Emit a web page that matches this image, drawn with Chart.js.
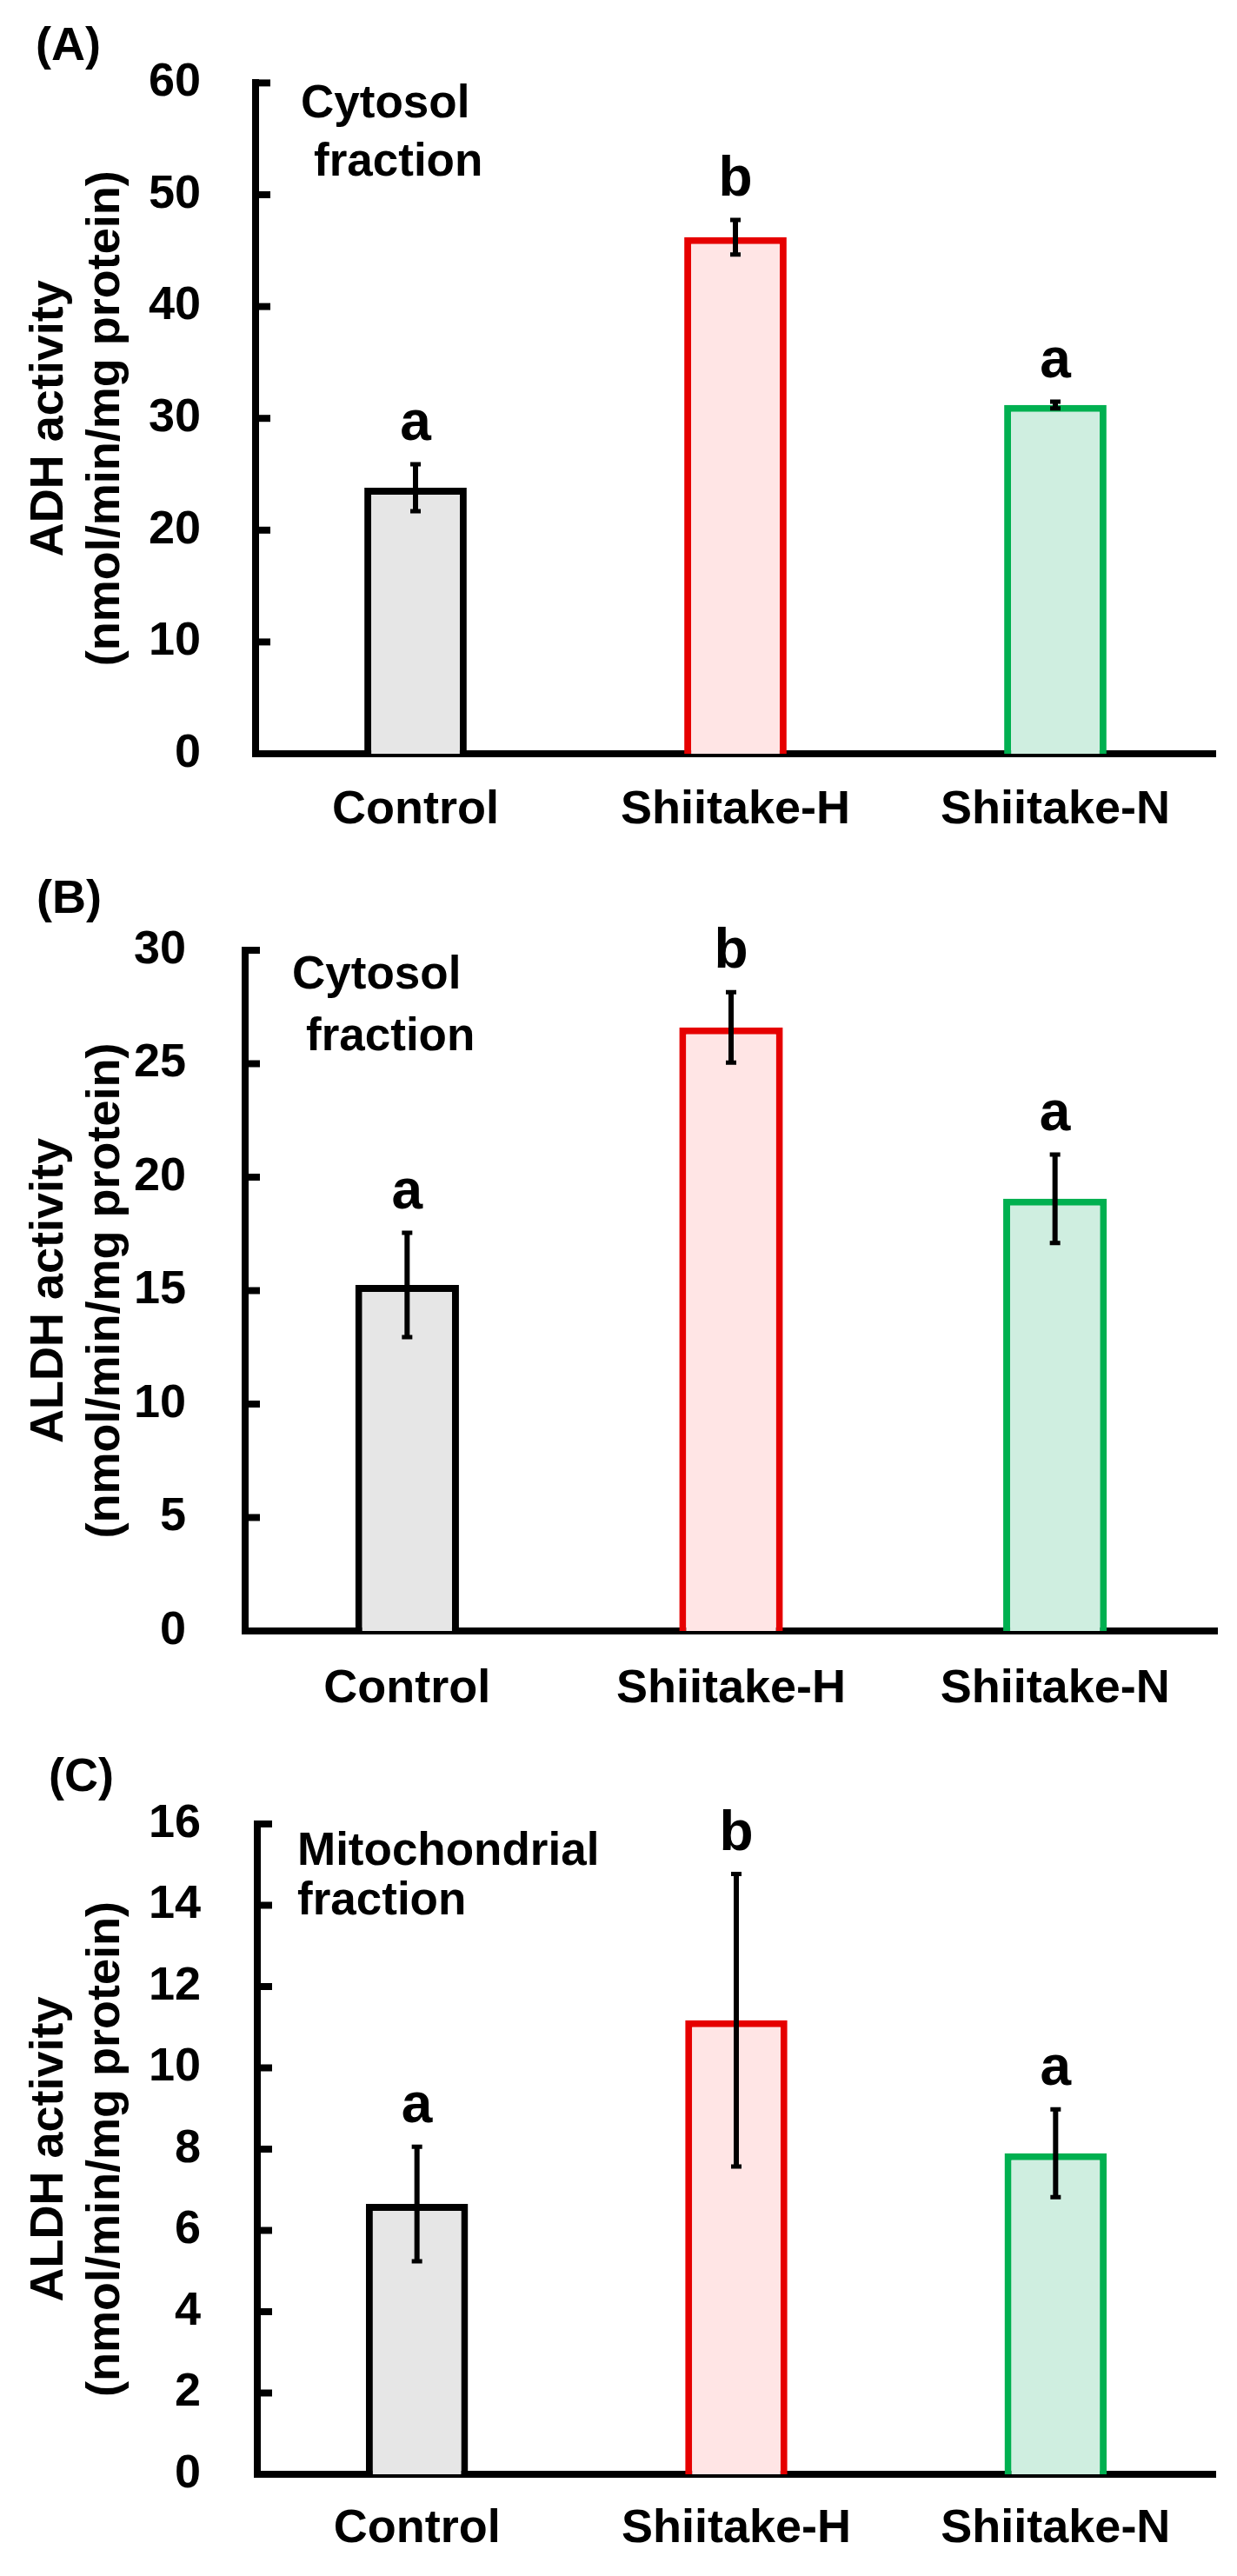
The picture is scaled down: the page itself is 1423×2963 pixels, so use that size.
<!DOCTYPE html>
<html>
<head>
<meta charset="utf-8">
<script src="https://cdn.jsdelivr.net/npm/chart.js@4.4.1/dist/chart.umd.min.js"></script>
<style>
  body { margin: 0; background: #fff; }
  .panel { position: absolute; left: 0; }
</style>
</head>
<body>
<div class="panel" style="top:0px"><canvas id="chartA" width="1423" height="980"></canvas></div>
<div class="panel" style="top:980px"><canvas id="chartB" width="1423" height="1000"></canvas></div>
<div class="panel" style="top:1980px"><canvas id="chartC" width="1423" height="983"></canvas></div>
<script>
const groups = ["Control", "Shiitake-H", "Shiitake-N"];

// (A) ADH, cytosol
const adhValues = [23.8, 46.2, 31.2];
const adhErrors = [2.1, 1.55, 0.3];
const adhLetters = ["a", "b", "a"];

// (B) ALDH, cytosol
const aldhCytValues = [15.25, 26.6, 19.05];
const aldhCytErrors = [2.3, 1.55, 1.95];
const aldhCytLetters = ["a", "b", "a"];

// (C) ALDH, mitochondria
const aldhMitoValues = [6.65, 11.17, 7.9];
const aldhMitoErrors = [1.41, 3.6, 1.08];
const aldhMitoLetters = ["a", "b", "a"];

const fillColors = ["#e6e6e6", "#ffe5e5", "#cfeee0"];
const edgeColors = ["#000000", "#e60000", "#00b050"];

const FONT = "'Liberation Sans', Arial, sans-serif";

// error bars, significance letters, inward ticks, panel label and note
const extrasPlugin = {
  id: "extras",
  afterDraw(chart, args, opts) {
    const ctx = chart.ctx;
    const y = chart.scales.y;
    const area = chart.chartArea;
    const meta = chart.getDatasetMeta(0);
    ctx.save();
    ctx.strokeStyle = "#000";
    ctx.fillStyle = "#000";

    // ticks pointing into the plot
    ctx.lineWidth = 8;
    y.ticks.forEach(t => {
      if (t.value === 0) return;
      const py = y.getPixelForValue(t.value);
      ctx.beginPath();
      ctx.moveTo(area.left, py);
      ctx.lineTo(area.left + 17, py);
      ctx.stroke();
    });

    // error bars
    meta.data.forEach((bar, i) => {
      const v = opts.values[i], e = opts.errors[i];
      const top = y.getPixelForValue(v + e);
      const bot = y.getPixelForValue(v - e);
      ctx.lineWidth = 6;
      ctx.beginPath();
      ctx.moveTo(bar.x, top);
      ctx.lineTo(bar.x, bot);
      ctx.stroke();
      ctx.lineWidth = 5;
      ctx.beginPath();
      ctx.moveTo(bar.x - 6, top);
      ctx.lineTo(bar.x + 6, top);
      ctx.moveTo(bar.x - 6, bot);
      ctx.lineTo(bar.x + 6, bot);
      ctx.stroke();

      ctx.font = "bold 64px " + FONT;
      ctx.textAlign = "center";
      ctx.textBaseline = "alphabetic";
      ctx.fillText(opts.letters[i], bar.x, top - 28);
    });

    // panel label
    ctx.textAlign = "left";
    ctx.font = "bold 54px " + FONT;
    ctx.fillText(opts.panel[0], opts.panel[1], opts.panel[2]);

    // fraction note
    ctx.font = "bold 53px " + FONT;
    opts.note.forEach(n => ctx.fillText(n[0], n[1], n[2]));
    ctx.restore();
  }
};

function makeChart(id, s) {
  const canvas = document.getElementById(id);
  const H = canvas.height;
  return new Chart(canvas.getContext("2d"), {
    type: "bar",
    data: {
      labels: groups,
      datasets: [{
        data: s.values,
        backgroundColor: fillColors,
        borderColor: edgeColors,
        borderWidth: 8,
        barPercentage: 0.32,
        categoryPercentage: 1.0
      }]
    },
    options: {
      responsive: false,
      animation: false,
      devicePixelRatio: 1,
      layout: { padding: { top: s.area.top, right: 1423 - s.area.right, left: 0, bottom: 0 } },
      plugins: {
        legend: { display: false },
        tooltip: { enabled: false },
        extras: {
          values: s.values, errors: s.errors, letters: s.letters,
          panel: s.panel, note: s.note
        }
      },
      scales: {
        x: {
          z: 1,
          grid: { display: false, drawTicks: false },
          border: { display: true, color: "#000", width: 8 },
          ticks: { color: "#000", padding: s.xPad, font: { family: FONT, size: 54, weight: "bold" } },
          afterFit: sc => { sc.height = H - s.area.bottom; }
        },
        y: {
          z: 1,
          min: 0,
          max: s.max,
          grid: { display: false, drawTicks: false },
          border: { display: true, color: "#000", width: 8 },
          ticks: { stepSize: s.step, color: "#000", padding: s.yPad, font: { family: FONT, size: 54, weight: "bold" } },
          title: {
            display: true,
            text: s.title,
            color: "#000",
            padding: { top: 25, bottom: 0 },
            font: { family: FONT, size: 54, weight: "bold", lineHeight: 1.2 }
          },
          afterFit: sc => { sc.width = s.area.left; }
        }
      }
    },
    plugins: [extrasPlugin]
  });
}

makeChart("chartA", {
  values: adhValues, errors: adhErrors, letters: adhLetters,
  max: 60, step: 10,
  title: ["ADH activity", "(nmol/min/mg protein)"],
  area: { top: 92, left: 294, right: 1398, bottom: 867 },
  yPad: 63, xPad: 33,
  panel: ["(A)", 41, 69],
  note: [["Cytosol", 346, 135], ["fraction", 361, 202]]
});

makeChart("chartB", {
  values: aldhCytValues, errors: aldhCytErrors, letters: aldhCytLetters,
  max: 30, step: 5,
  title: ["ALDH activity", "(nmol/min/mg protein)"],
  area: { top: 113, left: 282, right: 1400, bottom: 896 },
  yPad: 68, xPad: 35,
  panel: ["(B)", 42, 70],
  note: [["Cytosol", 336, 157], ["fraction", 352, 228]]
});

makeChart("chartC", {
  values: aldhMitoValues, errors: aldhMitoErrors, letters: aldhMitoLetters,
  max: 16, step: 2,
  title: ["ALDH activity", "(nmol/min/mg protein)"],
  area: { top: 118, left: 296, right: 1398, bottom: 866 },
  yPad: 65, xPad: 31,
  panel: ["(C)", 56, 80],
  note: [["Mitochondrial", 342, 165], ["fraction", 342, 222]]
});
</script>
</body>
</html>
